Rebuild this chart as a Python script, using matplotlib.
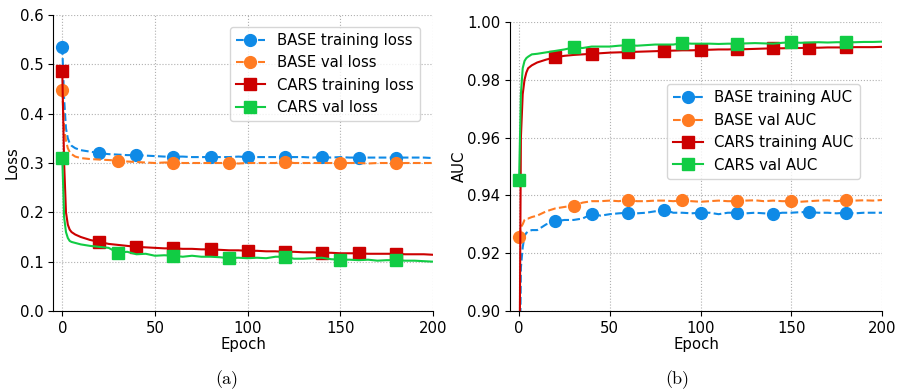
import numpy as np
import matplotlib
matplotlib.use("Agg")
import matplotlib.pyplot as plt

epochs = [0, 1, 2, 3, 4, 5, 7, 10, 15] + list(range(20, 201, 5))

# loss curves
base_train_loss = [0.535, 0.43, 0.37, 0.35, 0.34, 0.335, 0.33, 0.326, 0.323,
                   0.320, 0.318, 0.317, 0.316, 0.316, 0.315, 0.314, 0.313, 0.313, 0.313, 0.312,
                   0.312, 0.312, 0.312, 0.312, 0.313, 0.312, 0.312, 0.312, 0.312, 0.312,
                   0.312, 0.312, 0.311, 0.312, 0.311, 0.312, 0.311, 0.311, 0.311, 0.311,
                   0.311, 0.311, 0.311, 0.311, 0.311, 0.310]
base_val_loss = [0.448, 0.37, 0.345, 0.33, 0.322, 0.318, 0.313, 0.31, 0.308,
                 0.307, 0.306, 0.305, 0.303, 0.302, 0.301, 0.300, 0.301, 0.301, 0.300, 0.300,
                 0.300, 0.300, 0.300, 0.300, 0.299, 0.300, 0.300, 0.300, 0.300, 0.303,
                 0.300, 0.300, 0.300, 0.300, 0.300, 0.300, 0.300, 0.300, 0.299, 0.300,
                 0.300, 0.299, 0.300, 0.300, 0.300, 0.300]
cars_train_loss = [0.487, 0.30, 0.20, 0.175, 0.165, 0.16, 0.155, 0.150, 0.144,
                   0.140, 0.136, 0.134, 0.132, 0.130, 0.129, 0.128, 0.127, 0.127, 0.126, 0.126,
                   0.125, 0.125, 0.124, 0.123, 0.123, 0.122, 0.122, 0.121, 0.121, 0.120,
                   0.120, 0.119, 0.119, 0.118, 0.118, 0.117, 0.117, 0.117, 0.116, 0.116,
                   0.116, 0.116, 0.115, 0.115, 0.115, 0.114]
cars_val_loss = [0.311, 0.19, 0.16, 0.148, 0.142, 0.14, 0.138, 0.135, 0.132,
                 0.130, 0.128, 0.118, 0.120, 0.115, 0.116, 0.112, 0.113, 0.112, 0.110, 0.112,
                 0.110, 0.110, 0.109, 0.107, 0.108, 0.107, 0.108, 0.107, 0.110, 0.110,
                 0.106, 0.106, 0.107, 0.108, 0.105, 0.104, 0.104, 0.103, 0.104, 0.102,
                 0.103, 0.103, 0.102, 0.102, 0.101, 0.100]

# AUC curves
base_train_auc = [0.85, 0.915, 0.922, 0.926, 0.927, 0.9275, 0.928, 0.928, 0.930,
                  0.931, 0.9315, 0.9315, 0.932, 0.9335, 0.933, 0.9335, 0.9338, 0.934, 0.9338, 0.934,
                  0.9345, 0.935, 0.934, 0.934, 0.9338, 0.934, 0.934, 0.9335, 0.934, 0.934,
                  0.9338, 0.934, 0.9338, 0.9335, 0.934, 0.934, 0.9342, 0.9342, 0.934, 0.934,
                  0.9338, 0.934, 0.9338, 0.934, 0.934, 0.934]
base_val_auc = [0.9255, 0.929, 0.930, 0.9315, 0.932, 0.932, 0.9325, 0.933, 0.9345,
                0.9355, 0.936, 0.9365, 0.9375, 0.938, 0.938, 0.9382, 0.938, 0.9385, 0.938, 0.938,
                0.9382, 0.9382, 0.938, 0.9383, 0.938, 0.9378, 0.938, 0.9382, 0.938, 0.938,
                0.9382, 0.9383, 0.938, 0.9382, 0.938, 0.938, 0.9378, 0.938, 0.9382, 0.9383,
                0.938, 0.9384, 0.9382, 0.9383, 0.9382, 0.9384]
cars_train_auc = [0.85, 0.96, 0.975, 0.980, 0.9825, 0.984, 0.985, 0.986, 0.987,
                  0.9878, 0.9883, 0.9886, 0.9888, 0.989, 0.9892, 0.9894, 0.9895, 0.9896, 0.9897, 0.9898,
                  0.9899, 0.990, 0.9901, 0.9902, 0.9902, 0.9903, 0.9904, 0.9905, 0.9905, 0.9906,
                  0.9906, 0.9907, 0.9908, 0.9909, 0.9909, 0.991, 0.991, 0.9911, 0.9911, 0.9912,
                  0.9912, 0.9912, 0.9913, 0.9913, 0.9913, 0.9914]
cars_val_auc = [0.9452, 0.975, 0.984, 0.9865, 0.9875, 0.988, 0.9888, 0.989, 0.9895,
                0.990, 0.9905, 0.9912, 0.991, 0.9915, 0.9915, 0.9915, 0.9918, 0.992, 0.9918, 0.992,
                0.9922, 0.9922, 0.9922, 0.9927, 0.9925, 0.9925, 0.9925, 0.9924, 0.9925, 0.9925,
                0.9926, 0.9927, 0.9926, 0.9925, 0.9928, 0.993, 0.9928, 0.9929, 0.993, 0.9929,
                0.993, 0.993, 0.993, 0.9931, 0.9931, 0.9932]

train_marks = list(range(0, 200, 20))
val_marks = list(range(0, 200, 30))

c_blue = '#0f8ae6'
c_orange = '#ff7b22'
c_red = '#cc0000'
c_green = '#11cc44'
fs = 10.7

ep = np.array(epochs)
tm = np.isin(ep, train_marks)
vm = np.isin(ep, val_marks)

fig = plt.figure(figsize=(8.99, 3.92), dpi=100)
ax1 = fig.add_axes([53/899, 81/392, 380/899, 296/392])
ax2 = fig.add_axes([510/899, 81/392, 372/899, 289/392])

def draw(ax, series, labels):
    styles = [('--', 'o', c_blue, tm), ('--', 'o', c_orange, vm),
              ('-', 's', c_red, tm), ('-', 's', c_green, vm)]
    for y, lab, (ls, mk, c, mev) in zip(series, labels, styles):
        ax.plot(ep, y, ls=ls, marker=mk, color=c, markevery=list(mev), ms=8.5,
                lw=1.5, label=lab)
    ax.set_xlim(-5, 200)
    ax.set_xticks([0, 50, 100, 150, 200])
    ax.set_xlabel('Epoch', fontsize=fs, labelpad=1)
    ax.grid(True, ls=':', color='#b0b0b0', lw=0.8)
    ax.spines['top'].set_visible(False)
    ax.spines['right'].set_visible(False)
    ax.tick_params(labelsize=fs)

draw(ax1, [base_train_loss, base_val_loss, cars_train_loss, cars_val_loss],
     ['BASE training loss', 'BASE val loss', 'CARS training loss', 'CARS val loss'])
ax1.set_ylim(0, 0.6)
ax1.set_yticks(np.arange(0, 0.61, 0.1))
ax1.set_yticklabels(['%.1f' % v for v in np.arange(0, 0.61, 0.1)])
ax1.set_ylabel('Loss', fontsize=fs, labelpad=0)
ax1.legend(loc='upper right', fontsize=fs, bbox_to_anchor=(0.985, 0.985))

draw(ax2, [base_train_auc, base_val_auc, cars_train_auc, cars_val_auc],
     ['BASE training AUC', 'BASE val AUC', 'CARS training AUC', 'CARS val AUC'])
ax2.set_ylim(0.9, 1.0)
ax2.set_yticks([0.90, 0.92, 0.94, 0.96, 0.98, 1.00])
ax2.set_yticklabels(['0.90', '0.92', '0.94', '0.96', '0.98', '1.00'])
ax2.set_ylabel('AUC', fontsize=fs, labelpad=0)
ax2.legend(loc='upper right', fontsize=fs, bbox_to_anchor=(0.96, 0.81))

fig.text(227/899, 12/392, '(a)', ha='center', va='center', fontsize=13, family='cmr10')
fig.text(677/899, 12/392, '(b)', ha='center', va='center', fontsize=13, family='cmr10')

fig.savefig('out.png', dpi=100)
